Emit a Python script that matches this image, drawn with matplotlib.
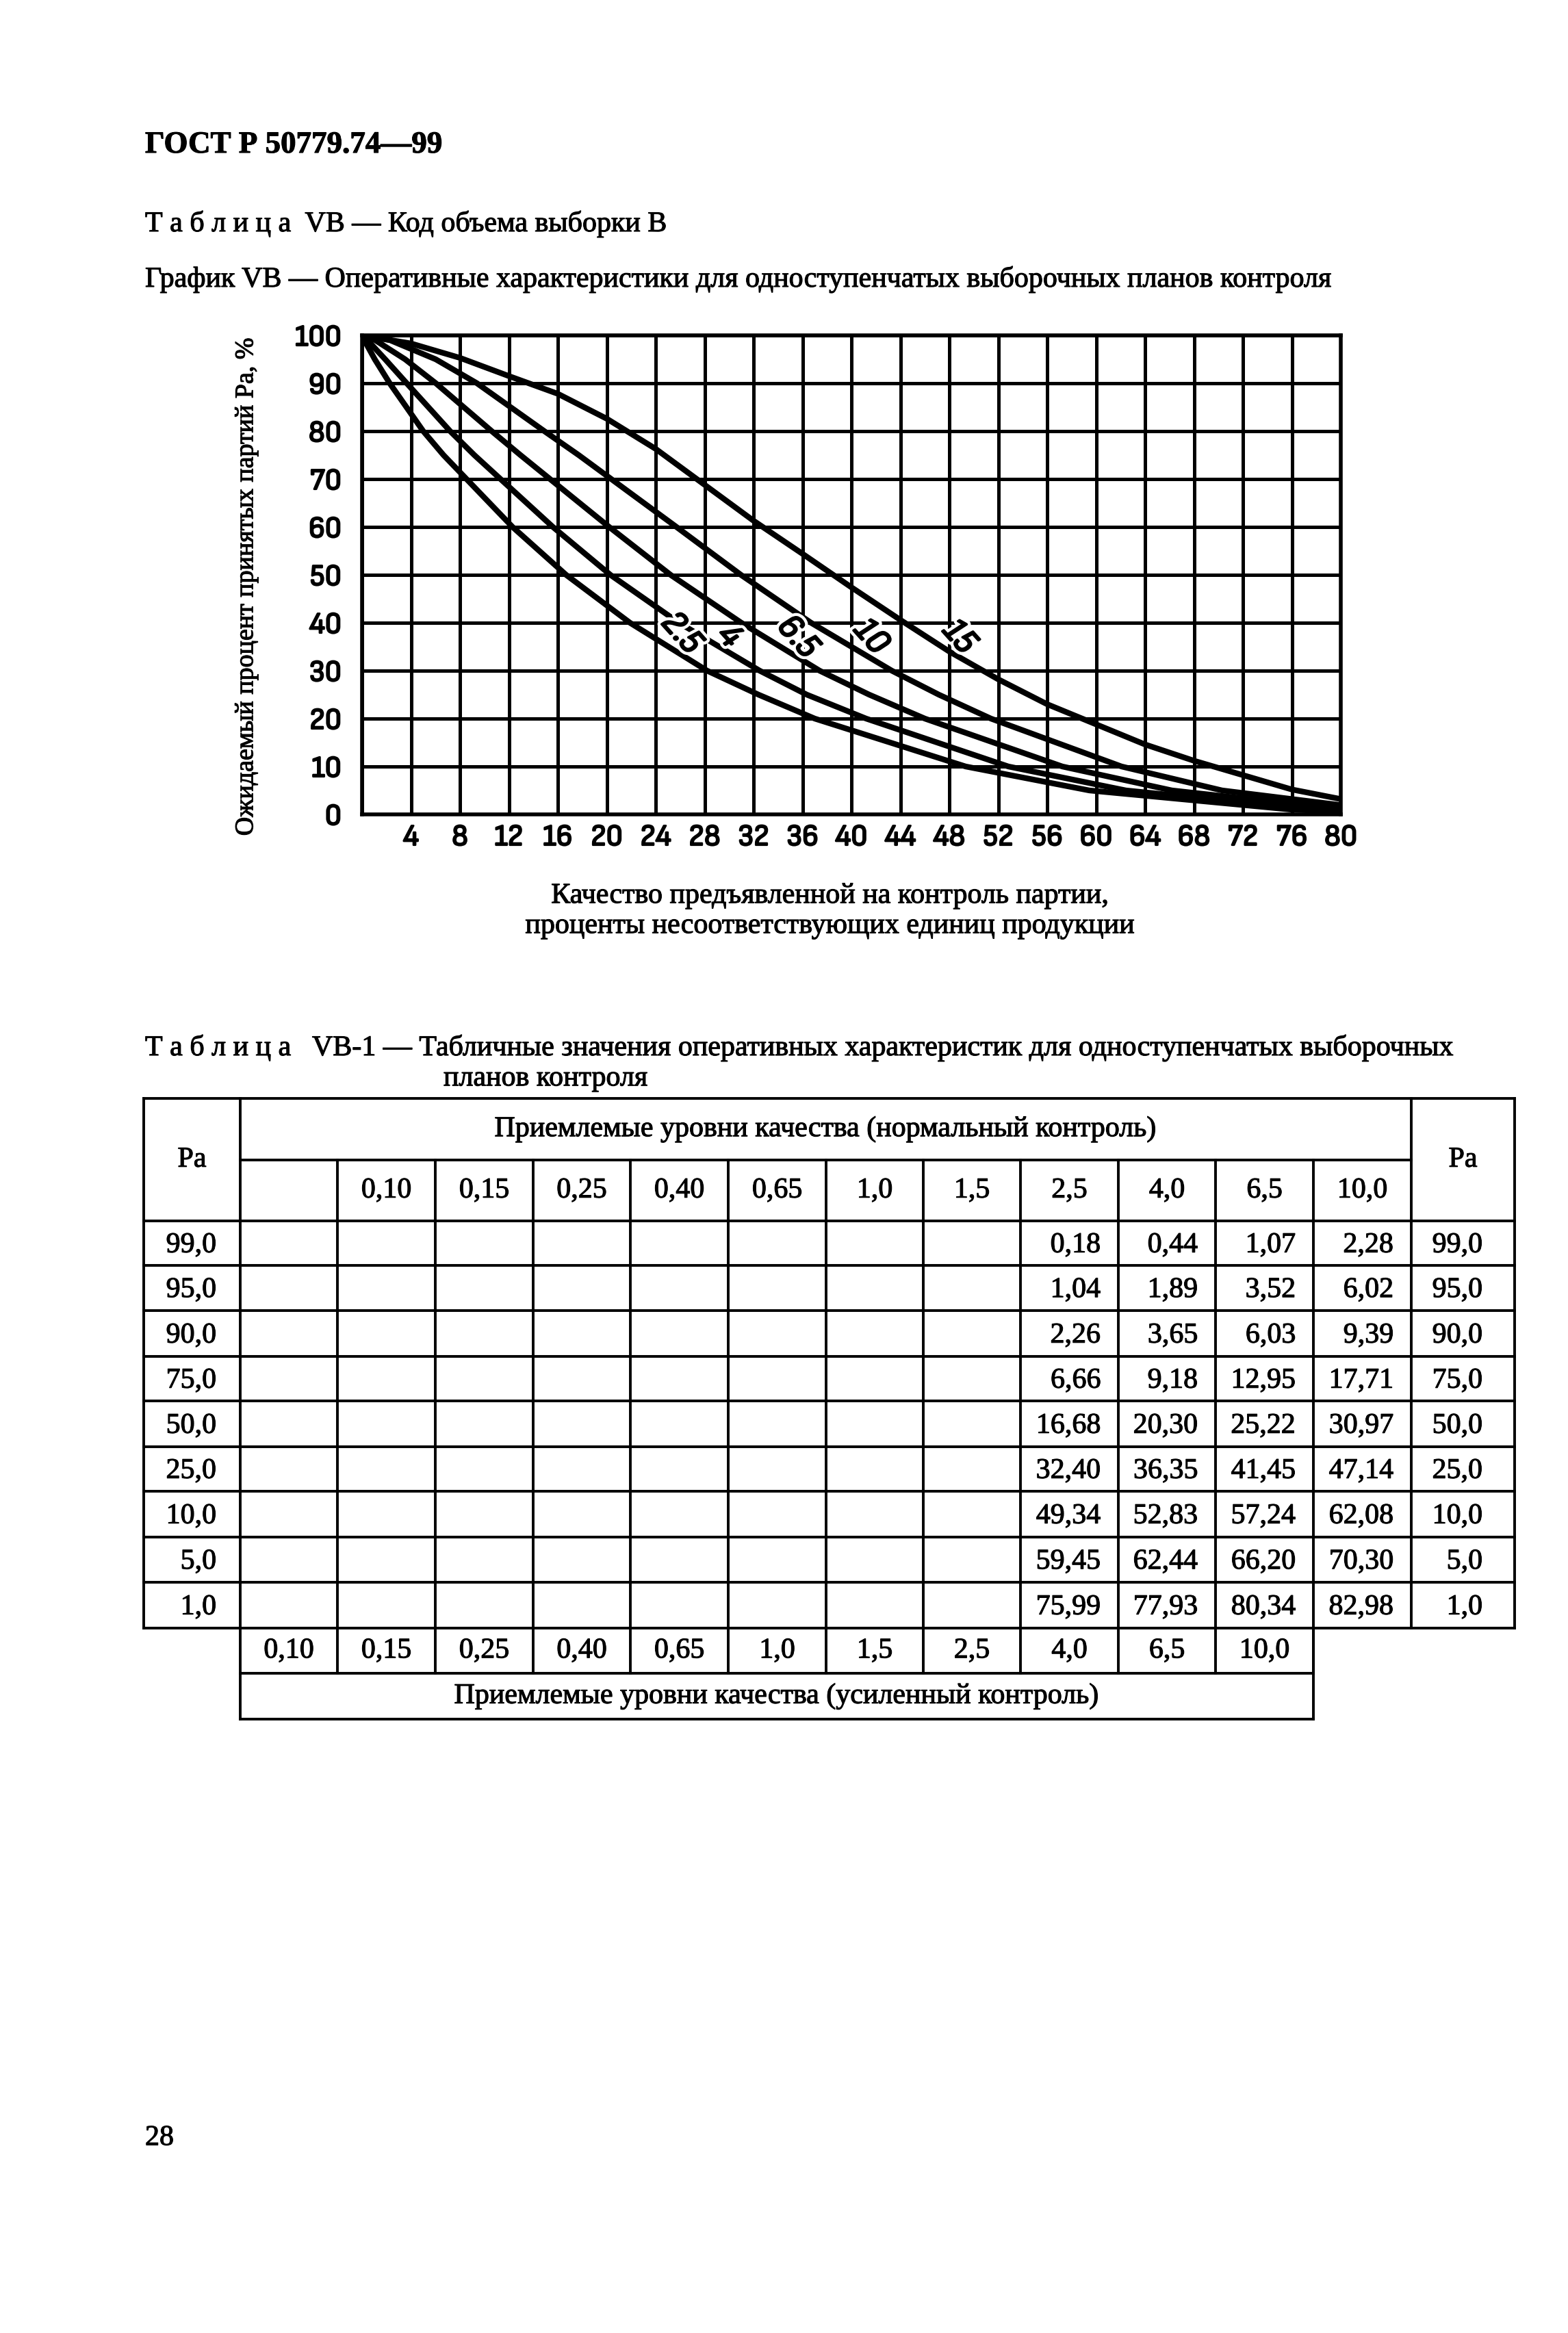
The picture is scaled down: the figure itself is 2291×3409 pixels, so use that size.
import matplotlib
matplotlib.use("Agg")
import matplotlib.pyplot as plt
import matplotlib.patheffects as pe
from matplotlib import font_manager
from matplotlib.font_manager import FontProperties

W, H = 2291, 3409
DPI = 100

# ---- table VB-1 values (normal inspection AQL columns 2,5 4,0 6,5 10,0) ----
pa_table = [99.0, 95.0, 90.0, 75.0, 50.0, 25.0, 10.0, 5.0, 1.0]
x_25 = [0.18, 1.04, 2.26, 6.66, 16.68, 32.40, 49.34, 59.45, 75.99]
x_40 = [0.44, 1.89, 3.65, 9.18, 20.30, 36.35, 52.83, 62.44, 77.93]
x_65 = [1.07, 3.52, 6.03, 12.95, 25.22, 41.45, 57.24, 66.20, 80.34]
x_100 = [2.28, 6.02, 9.39, 17.71, 30.97, 47.14, 62.08, 70.30, 82.98]

pa_read = [80.0, 60.0, 40.0, 30.0, 20.0]
read_25 = [5.0, 12.3, 21.9, 28.2, 37.0]
read_40 = [7.2, 15.6, 25.9, 32.5, 41.2]
read_65 = [10.6, 20.2, 31.0, 37.4, 46.0]
read_100 = [14.9, 25.7, 36.7, 43.3, 51.4]
# Pa at the right border x=80 (curves that end inside the grid)
end_25 = 0.6
end_40 = 0.8

# curve 15 exists only on the graph, read at every grid column
x_15 = [4, 8, 12, 16, 20, 24, 28, 32, 36, 40, 44, 48, 52, 56, 60, 64, 68, 72, 76, 80]
pa_15 = [98.3, 95.3, 91.5, 87.8, 82.6, 76.3, 68.8, 61.3, 54.4, 47.4,
         40.6, 34.0, 28.2, 23.0, 18.8, 14.6, 11.2, 8.2, 5.2, 3.2]

curve_names = ["2.5", "4", "6.5", "10", "15"]
label_x = [26.1, 30.0, 35.6, 41.6, 48.8]
label_y = [37.8, 37.2, 37.0, 37.0, 37.0]

aql_cols = ["0,10", "0,15", "0,25", "0,40", "0,65", "1,0", "1,5", "2,5", "4,0", "6,5", "10,0"]

x_ticks = list(range(0, 81, 4))
y_ticks = list(range(0, 101, 10))


def pts(px):
    return px * 72.0 / DPI


def build(xs, pas, rx, rpa, end=None):
    p = sorted(list(zip(xs, pas)) + list(zip(rx, rpa)))
    p = [(0.0, 100.0)] + p
    if end is not None:
        p.append((80.0, end))
    return [a for a, b in p], [b for a, b in p]


# a condensed sans face for the hand-lettered digits, if one is installed
cond = None
cond_it = None
for f in font_manager.fontManager.ttflist:
    fn = f.fname.lower()
    if ("condensed" in fn or "narrow" in fn) and "sans" in fn and "mono" not in fn:
        if "oblique" in fn or "italic" in fn:
            if cond_it is None or "bold" not in fn:
                cond_it = f.fname
        elif cond is None or ("bold" not in fn and "light" not in fn and "extra" not in fn):
            cond = f.fname
if cond:
    tick_font = FontProperties(fname=cond, size=pts(44))
else:
    tick_font = FontProperties(family="DejaVu Sans", size=pts(36))
label_font = FontProperties(fname=cond_it, size=pts(52)) if cond_it else \
    FontProperties(family="DejaVu Sans", style="italic", size=pts(44))

serif = "Liberation Serif"
ink = [pe.withStroke(linewidth=0.8, foreground="black")]
fig = plt.figure(figsize=(W / DPI, H / DPI), dpi=DPI)
fig.patch.set_facecolor("white")

page = fig.add_axes([0, 0, 1, 1])
page.set_xlim(0, W)
page.set_ylim(H, 0)
page.axis("off")


def say(x, y, s, size=42, ha="left", **kw):
    page.text(x, y, s, fontsize=pts(size), family=serif, va="center", ha=ha,
              path_effects=ink, **kw)


say(212, 212, "ГОСТ Р 50779.74—99", 45, fontweight="bold")
say(212, 327, "Т а б л и ц а  VB — Код объема выборки В")
say(212, 408, "График VB — Оперативные характеристики для одноступенчатых выборочных планов контроля")
say(360, 858, "Ожидаемый процент принятых партий Ра, %", 38, ha="center", rotation=90)
say(1213, 1309, "Качество предъявленной на контроль партии,", ha="center")
say(1213, 1353, "проценты несоответствующих единиц продукции", ha="center")

# ---- chart ----
L, R, T, B = 529, 1959, 490, 1190
ax = fig.add_axes([L / W, 1 - B / H, (R - L) / W, (B - T) / H])
ax.set_xlim(0, 80)
ax.set_ylim(0, 100)
ax.set_xticks(x_ticks)
ax.set_xticklabels([""] + [str(v) for v in x_ticks[1:]])
ax.set_yticks(y_ticks)
ax.set_yticklabels([str(v) for v in y_ticks])
ax.grid(True, color="black", linewidth=3.6)
for s in ax.spines.values():
    s.set_linewidth(4.0)
ax.tick_params(length=0)
ax.tick_params(axis="y", pad=pts(30))
ax.tick_params(axis="x", pad=pts(15))
for lab in ax.get_xticklabels() + ax.get_yticklabels():
    lab.set_fontproperties(tick_font)
    lab.set_path_effects([pe.withStroke(linewidth=1.6, foreground="black")])

curves = [
    build(x_25, pa_table, read_25, pa_read, end_25),
    build(x_40, pa_table, read_40, pa_read, end_40),
    build(x_65, pa_table, read_65, pa_read),
    build(x_100, pa_table, read_100, pa_read),
    ([0.0] + x_15, [100.0] + pa_15),
]
for cx, cy in curves:
    ax.plot(cx, cy, color="black", linewidth=6.0, solid_joinstyle="round",
            solid_capstyle="round", zorder=3)

for name, lx, ly in zip(curve_names, label_x, label_y):
    ax.text(lx, ly, name, fontproperties=label_font, rotation=-48, ha="center",
            va="center", zorder=5,
            path_effects=[pe.withStroke(linewidth=8, foreground="white"),
                          pe.withStroke(linewidth=1.8, foreground="black")])

# ---- table VB-1 ----
say(212, 1531, "Т а б л и ц а   VB-1 — Табличные значения оперативных характеристик для одноступенчатых выборочных")
say(648, 1576, "планов контроля")

tl, tr = 210, 2213
col = [351, 493, 636, 779, 921, 1064, 1207, 1349, 1491, 1634, 1776, 1919, 2062]
rows = [1605, 1695, 1784, 1849, 1915, 1982, 2047, 2114, 2179, 2246, 2312, 2379]
low1, low2 = 2445, 2512
lw = 2.8


def hline(y, x0, x1):
    page.plot([x0, x1], [y, y], color="black", linewidth=lw, solid_capstyle="projecting")


def vline(x, y0, y1):
    page.plot([x, x], [y0, y1], color="black", linewidth=lw, solid_capstyle="projecting")


hline(rows[0], tl, tr)
hline(rows[1], col[0], col[-1])
for y in rows[2:]:
    hline(y, tl, tr)
vline(tl, rows[0], rows[-1])
vline(tr, rows[0], rows[-1])
vline(col[0], rows[0], low2)
vline(col[-1], rows[0], rows[-1])
for x in col[1:-1]:
    vline(x, rows[1], rows[-1])
# tightened inspection rows under the table
hline(low1, col[0], col[-2])
hline(low2, col[0], col[-2])
for x in col[1:-1]:
    vline(x, rows[-1], low1)
vline(col[-2], rows[-1], low2)

say((tl + col[0]) / 2, (rows[0] + rows[2]) / 2, "Ра", ha="center")
say((col[-1] + tr) / 2, (rows[0] + rows[2]) / 2, "Ра", ha="center")
say((col[0] + col[-1]) / 2, (rows[0] + rows[1]) / 2,
    "Приемлемые уровни качества (нормальный контроль)", ha="center")
for i, a in enumerate(aql_cols):
    say((col[i + 1] + col[i + 2]) / 2, (rows[1] + rows[2]) / 2, a, ha="center")
    say((col[i] + col[i + 1]) / 2, (rows[-1] + low1) / 2, a, ha="center")
say((col[0] + col[-2]) / 2, (low1 + low2) / 2,
    "Приемлемые уровни качества (усиленный контроль)", ha="center")

table_cols = [x_25, x_40, x_65, x_100]
for r, pa in enumerate(pa_table):
    yc = (rows[r + 2] + rows[r + 3]) / 2 + 3
    s = f"{pa:.1f}".replace(".", ",")
    say(316, yc, s, ha="right")
    say(2166, yc, s, ha="right")
    for c, vals in enumerate(table_cols):
        say(col[9 + c] - 26, yc, f"{vals[r]:.2f}".replace(".", ","), ha="right")

say(212, 3124, "28")

fig.savefig("out.png", dpi=DPI, facecolor="white")
